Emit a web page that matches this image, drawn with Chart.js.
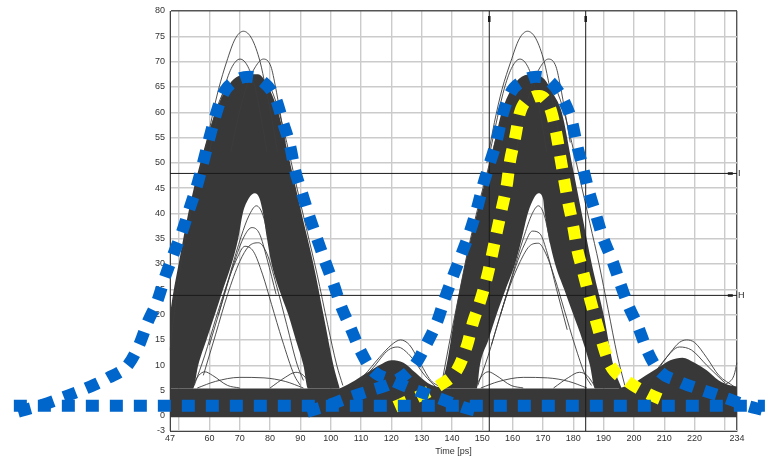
<!DOCTYPE html>
<html>
<head>
<meta charset="utf-8">
<script src="https://cdn.jsdelivr.net/npm/chart.js@4/dist/chart.umd.min.js"></script>
<style>
  html, body { margin: 0; padding: 0; background: #fff; }
</style>
</head>
<body>
<canvas id="ojo" width="765" height="457"></canvas>
<script>
// EJES
const xTickValues = [47, 50, 60, 70, 80, 90, 100, 110, 120, 130, 140, 150, 160, 170, 180, 190, 200, 210, 220, 230, 234];
const xTickLabels = ["47", "", "60", "70", "80", "90", "100", "110", "120", "130", "140", "150", "160", "170", "180", "190", "200", "210", "220", "", "234"];
const yTickValues = [-3, 0, 5, 10, 15, 20, 25, 30, 35, 40, 45, 50, 55, 60, 65, 70, 75, 80];

// CURSORES
const cursorY = [47.9, 23.8];
const cursorLetters = ["I", "H"];
const cursorX = [152.3, 184.1];

// CURVAS SUPERPUESTAS
const blueFlat = [[-4.5, 2.0], [243.2, 2.0]];
const bluePulseA = [[-3.1, 0.8], [5.1, 2.2], [12.4, 3.8], [19.6, 5.5], [26.6, 7.5], [33.2, 10.1], [37.1, 14.4], [39.7, 18.6], [42.7, 22.5], [45.4, 27.5], [48.3, 32.2], [51.0, 36.4], [53.3, 40.7], [55.9, 45.5], [57.9, 50.0], [59.9, 54.7], [61.9, 59.1], [64.5, 63.6], [69.1, 66.4], [73.2, 67.0], [77.3, 66.2], [82.0, 62.5], [84.3, 57.9], [86.6, 53.4], [88.2, 48.6], [90.5, 44.1], [92.8, 39.7], [95.5, 35.0], [98.1, 30.6], [100.8, 26.3], [103.4, 21.7], [106.4, 17.6], [109.7, 13.0], [113.6, 9.1], [120.2, 7.0], [127.8, 5.1], [135.1, 3.6], [143.3, 1.8], [149.2, 0.8]];
const bluePulseB = [[92.2, 0.8], [98.8, 2.0], [106.0, 3.6], [113.6, 5.1], [120.9, 6.7], [127.8, 10.1], [131.8, 14.4], [135.1, 18.6], [137.7, 23.3], [140.3, 27.5], [143.3, 32.2], [145.9, 36.4], [148.3, 41.1], [150.2, 45.5], [152.5, 50.0], [154.8, 54.5], [156.5, 59.1], [159.1, 63.6], [164.1, 66.4], [167.9, 67.0], [171.7, 66.4], [176.6, 62.6], [179.6, 58.1], [181.2, 53.6], [183.2, 49.0], [185.2, 44.3], [187.5, 39.7], [189.8, 35.2], [192.8, 30.8], [195.4, 26.3], [198.1, 21.9], [201.4, 17.6], [204.3, 13.0], [208.0, 9.1], [215.2, 6.7], [222.5, 5.1], [230.0, 3.6], [237.3, 2.0], [242.3, 1.2]];
const yellowPulse = [[121.2, 1.8], [128.8, 3.8], [136.1, 6.1], [141.7, 9.1], [145.0, 14.0], [146.9, 18.4], [149.2, 22.5], [151.5, 27.3], [153.2, 31.8], [154.8, 36.4], [156.5, 41.1], [158.1, 45.7], [159.1, 50.2], [160.8, 54.9], [162.4, 59.9], [166.1, 62.8], [168.8, 63.2], [172.3, 60.9], [174.3, 56.1], [175.6, 51.6], [176.9, 47.0], [178.3, 42.3], [179.9, 37.7], [181.2, 33.2], [183.2, 28.5], [185.2, 23.9], [187.2, 19.4], [189.5, 14.6], [192.1, 10.1], [197.7, 6.9], [204.3, 4.5], [211.6, 2.6]];

// ZONAS DENSAS DEL DIAGRAMA
const bandTop = [[47, 5.4], [234, 5.4]];
const pulseAUpper = [[47, 20], [48, 24], [50, 30.5], [53, 40], [57, 50], [62, 60], [65, 64], [68, 66.5], [72, 67.5], [76, 67.5], [79, 65.5], [82.7, 60], [86.6, 50], [90.4, 40], [94.3, 30], [97.6, 20], [100.9, 10], [103, 5.4]];
const pulseALower = [[47, 5.4], [54.6, 5.4], [56.3, 10], [59, 15], [61.8, 20], [64.5, 25], [67.3, 30], [69.5, 35], [71, 40], [73, 43], [75, 44], [76.5, 43], [77.7, 40], [79, 35], [80.5, 30], [83, 25], [86, 20], [88.5, 15], [91, 10], [92.5, 5.4], [103, 5.4]];
const pulseBUpper = [[136, 5.4], [138.2, 10], [141, 20], [144.3, 30], [148.2, 40], [152.5, 50], [156.4, 60], [159.5, 64.5], [163, 67], [167, 67.5], [170.5, 66.5], [173.5, 63.5], [176.2, 60], [179.5, 50], [182.8, 40], [186.1, 30], [190, 20], [193.2, 10], [196, 5.4]];
const pulseBLower = [[136, 5.4], [148.2, 5.4], [149.2, 10], [152, 15], [154.7, 20], [157.7, 25], [160.8, 30], [163, 35], [165, 40], [167, 43], [168.5, 44], [170, 43], [170.6, 40], [172, 35], [174, 30], [177, 25], [180, 20], [183, 15], [185.5, 10], [187.2, 5.4], [196, 5.4]];
const bumpMid = [[103, 5.4], [108, 7], [112, 8.5], [116, 10], [120, 11], [124, 10.5], [128, 8.5], [132, 6.5], [137, 5.4]];
const bumpRight = [[195, 5.4], [200, 6.5], [204, 8], [208, 9.5], [212, 11], [216, 11.5], [220, 10.5], [224, 9], [228, 7], [232, 6], [234, 5.8]];

// TRAZAS SUELTAS
const traces = [
  [[58, 50], [60.5, 58], [63, 64.5], [65.7, 70], [68.5, 74.5], [71.2, 76], [74, 74.5], [76.7, 70], [78.5, 65], [80.5, 59], [82.5, 52]],
  [[60, 52], [62.5, 59], [65, 65], [67.5, 69], [70.1, 70.5], [72.7, 69], [75, 65], [77, 59], [79, 52]],
  [[67, 52], [69.5, 59], [72.5, 65.5], [75.2, 69], [77.8, 70.5], [80.3, 69], [81.8, 65], [83.3, 60], [85, 54]],
  [[47, 13], [49, 23], [51.5, 33], [54.5, 42], [57.5, 50], [60.5, 57], [63.5, 62.5], [66.5, 66]],
  [[79.5, 66], [82.5, 61], [85.5, 54], [88.5, 46], [92, 37], [95.5, 28], [99, 18], [102, 10], [104, 6]],
  [[55, 6], [58.5, 12], [62, 19], [65.5, 25.5], [69, 31], [71.7, 33.5], [74.5, 32.5], [77.5, 28], [80.5, 22], [84, 15], [88, 8], [90, 6]],
  [[58, 8], [62, 16], [66, 24], [70, 30.5], [73, 33.5], [76.2, 34.2], [79, 32], [82, 26], [85.5, 18], [89, 10], [91, 7]],
  [[60, 14], [64, 22], [68, 30], [71.5, 35.5], [74, 37.2], [76.5, 36], [79, 31], [82, 24]],
  [[63, 20], [67, 28.5], [70.5, 35.5], [73, 39.5], [75.5, 41.5], [78, 39], [80, 33]],
  [[151.5, 50], [154, 58], [156.5, 64.5], [159.4, 70], [162.2, 74.5], [164.9, 76], [167.7, 74.5], [170.4, 70], [172.2, 65], [174.2, 59], [176.2, 52]],
  [[152.5, 52], [155, 59], [157.4, 65], [159.9, 69], [162.4, 70.5], [165, 69], [167.3, 65], [169.3, 59], [171.3, 52]],
  [[161, 52], [163.5, 59], [166.5, 65.5], [169.2, 69], [171.8, 70.5], [174.3, 69], [175.8, 65], [177.3, 60], [179, 54]],
  [[136.5, 6], [139, 14], [142, 23], [145, 32], [148.5, 41], [152, 49], [155.5, 57], [158.5, 62.5], [161.5, 66]],
  [[173.5, 66], [176.5, 61], [179.5, 54], [182.5, 46], [185.5, 38], [188.5, 30], [191.5, 21], [194.5, 12], [197, 6]],
  [[148.5, 6], [152, 12], [155.5, 19], [159, 25.5], [162.5, 30.5], [165.5, 33.5], [168.5, 34.1], [171, 32], [174, 27], [177, 21], [180.5, 14], [184, 8], [186, 6]],
  [[153, 14], [157, 22], [161, 29.5], [164, 34], [166.5, 36.5], [169, 36], [171.5, 32], [174.5, 25], [178, 17]],
  [[156, 20], [160, 28], [163.5, 35], [166.5, 40], [168.5, 41.5], [170.5, 39.5], [172.5, 34]],
  [[54, 5.5], [56.5, 8], [58.5, 8.7], [61, 8], [66, 6], [70, 5.5]],
  [[56, 5.5], [62, 6.8], [70, 7.6], [78, 7.5], [85, 6.8], [91, 5.5]],
  [[80, 5.5], [85, 7.6], [88.5, 8.6], [91, 8], [94, 5.5]],
  [[147.5, 5.5], [150, 8], [152, 8.7], [154.5, 8], [159.5, 6], [163.5, 5.5]],
  [[149.5, 5.5], [155.5, 6.8], [163.5, 7.6], [171.5, 7.5], [178.5, 6.8], [184.5, 5.5]],
  [[173.5, 5.5], [178.5, 7.6], [182, 8.6], [184.5, 8], [187.5, 5.5]],
  [[106, 5.5], [111, 8], [116, 11.5], [120, 14], [123, 15], [126, 14], [129, 11], [133, 7], [137, 5.5]],
  [[108, 5.5], [114, 9.5], [119, 13], [122, 13.6], [126, 12], [131, 8], [135, 5.5]],
  [[202, 5.5], [207, 8.5], [212, 12.5], [215, 14.5], [217.4, 15], [220, 14.5], [224, 11.5], [228, 8], [233, 5.8]],
  [[204, 6], [210, 11], [215, 13.6], [219, 13], [224, 10], [230, 6.5]],
  [[228, 6], [231, 6.5], [233, 8], [234, 10.5]]
];

const OSCURO = "#383838";
const AZUL = "#0066cc";
const AMARILLO = "#ffff00";

function puntos(arr) {
  return arr.map(p => ({ x: p[0], y: p[1] }));
}

function linea(arr, extra) {
  return Object.assign({
    data: puntos(arr),
    borderColor: "#3c3c3c",
    borderWidth: 0.9,
    pointRadius: 0,
    fill: false,
    cubicInterpolationMode: "monotone"
  }, extra || {});
}

function punteada(arr, color) {
  return linea(arr, {
    borderColor: color,
    borderWidth: 12,
    borderDash: [13, 11],
    clip: false
  });
}

const datasets = [];

// arriba de todo
datasets.push(punteada(blueFlat, AZUL));
datasets.push(punteada(bluePulseB, AZUL));
datasets.push(punteada(bluePulseA, AZUL));
datasets.push(punteada(yellowPulse, AMARILLO));

// cursores
cursorY.forEach(v => {
  datasets.push(linea([[47, v], [231.8, v], [234, v]], {
    borderColor: "#1a1a1a", borderWidth: 1, tension: 0, cubicInterpolationMode: "default",
    pointRadius: [0, 2.5, 0], pointStyle: "line", pointBorderWidth: 2.5, pointBorderColor: "#1a1a1a"
  }));
});
cursorX.forEach(v => {
  datasets.push(linea([[v, -3], [v, 78.4], [v, 80]], {
    borderColor: "#1a1a1a", borderWidth: 1, tension: 0, cubicInterpolationMode: "default",
    pointRadius: [0, 3, 0], pointStyle: "line", pointRotation: 90, pointBorderWidth: 2.5, pointBorderColor: "#1a1a1a"
  }));
});

// trazas sueltas
traces.forEach(t => datasets.push(linea(t)));

// zonas rellenas
datasets.push(linea(bumpMid, { borderWidth: 0, backgroundColor: OSCURO, fill: { value: 5 } }));
datasets.push(linea(bumpRight, { borderWidth: 0, backgroundColor: OSCURO, fill: { value: 5 } }));
datasets.push(linea(pulseAUpper, { borderWidth: 0, backgroundColor: OSCURO, fill: "+1" }));
datasets.push(linea(pulseALower, { borderWidth: 0 }));
datasets.push(linea(pulseBUpper, { borderWidth: 0, backgroundColor: OSCURO, fill: "+1" }));
datasets.push(linea(pulseBLower, { borderWidth: 0 }));
datasets.push(linea(bandTop, { borderWidth: 0, backgroundColor: OSCURO, fill: { value: -0.3 }, tension: 0, cubicInterpolationMode: "default" }));

// LETRAS DE CURSOR
const letrasCursor = {
  id: "letrasCursor",
  afterDatasetsDraw(chart) {
    const { ctx, scales } = chart;
    ctx.save();
    ctx.font = "9px Arial";
    ctx.fillStyle = "#222";
    ctx.textBaseline = "middle";
    ctx.textAlign = "left";
    cursorLetters.forEach((t, i) => {
      ctx.fillText(t, scales.x.getPixelForValue(234) + 1, scales.y.getPixelForValue(cursorY[i]));
    });
    ctx.restore();
  }
};

const fuente = { family: "Arial, 'Liberation Sans', sans-serif", size: 9 };

new Chart(document.getElementById("ojo"), {
  type: "line",
  data: { datasets: datasets },
  options: {
    responsive: false,
    animation: false,
    events: [],
    layout: { padding: { top: 11, right: 28, left: 0, bottom: 0 } },
    plugins: { legend: { display: false }, tooltip: { enabled: false } },
    scales: {
      x: {
        type: "linear",
        bounds: "data",
        afterDataLimits: s => { s.min = 47; s.max = 234; },
        afterBuildTicks: s => { s.ticks = xTickValues.map(v => ({ value: v })); },
        afterFit: s => { s.height = 26; },
        ticks: {
          autoSkip: false, maxRotation: 0, padding: 2, color: "#333", font: fuente,
          callback: (v, i) => xTickLabels[i]
        },
        grid: {
          drawTicks: false, lineWidth: 1.4,
          color: c => (c.tick && c.tick.value === 234) ? "#555" : "#cbcbcb"
        },
        border: { display: true, color: "#444", width: 1 },
        title: { display: true, text: "Time [ps]", color: "#333", font: fuente, padding: 0 }
      },
      y: {
        type: "linear",
        min: -3,
        max: 80,
        afterBuildTicks: s => { s.ticks = yTickValues.map(v => ({ value: v })); },
        afterFit: s => { s.width = 170; },
        ticks: { padding: 5, color: "#333", font: fuente },
        grid: {
          drawTicks: false, lineWidth: 1.4,
          color: c => (c.tick && c.tick.value === 80) ? "#555" : "#cbcbcb"
        },
        border: { display: true, color: "#444", width: 1 }
      }
    }
  },
  plugins: [letrasCursor]
});
</script>
</body>
</html>
